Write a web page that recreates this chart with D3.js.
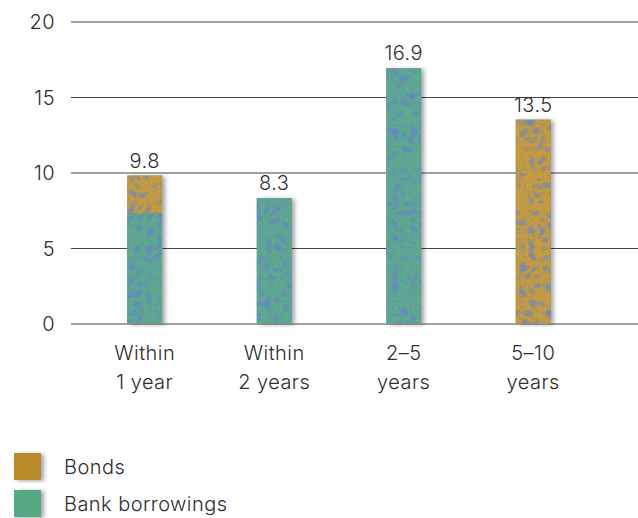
<!DOCTYPE html>
<html>
<head>
<meta charset="utf-8">
<script src="https://cdn.jsdelivr.net/npm/d3@7"></script>
<style>
  html, body { margin: 0; padding: 0; background: #fff; }
  svg text { font-family: Inter, "Open Sans", "Liberation Sans", sans-serif; font-weight: 300; fill: #2e2e2e; letter-spacing: 0.45px; }
</style>
</head>
<body>
<svg id="chart" width="638" height="518"></svg>
<script>
// Maturity profile (amounts)
const categories = ["Within 1 year", "Within 2 years", "2–5 years", "5–10 years"];
const categoryLines = [["Within", "1 year"], ["Within", "2 years"], ["2–5", "years"], ["5–10", "years"]];
const bankBorrowings = [7.3, 8.3, 16.9, 0];
const bonds = [2.5, 0, 0, 13.5];
const totals = [9.8, 8.3, 16.9, 13.5];
const yTicks = [0, 5, 10, 15, 20];
const seriesNames = ["Bonds", "Bank borrowings"];

const svg = d3.select("#chart");
const defs = svg.append("defs");

// Drop shadow for bars and legend swatches
const shadow = defs.append("filter").attr("id", "shadow")
  .attr("x", "-30%").attr("y", "-10%").attr("width", "180%").attr("height", "120%");
shadow.append("feDropShadow").attr("dx", 3).attr("dy", 1).attr("stdDeviation", 2)
  .attr("flood-color", "#000").attr("flood-opacity", 0.35);

// Mottled blue veining laid over the bar fills
function mottle(id, r, g, b, seed) {
  const f = defs.append("filter").attr("id", id)
    .attr("x", 0).attr("y", 0).attr("width", 1).attr("height", 1)
    .attr("color-interpolation-filters", "sRGB");
  f.append("feTurbulence").attr("type", "turbulence").attr("baseFrequency", 0.11)
    .attr("numOctaves", 2).attr("seed", seed).attr("result", "noise");
  f.append("feColorMatrix").attr("in", "noise").attr("type", "matrix")
    .attr("values", `0 0 0 0 ${r}  0 0 0 0 ${g}  0 0 0 0 ${b}  0 0 0 2.2 -0.42`)
    .attr("result", "ink");
  f.append("feGaussianBlur").attr("in", "ink").attr("stdDeviation", 0.6).attr("result", "soft");
  f.append("feComposite").attr("in", "soft").attr("in2", "SourceGraphic").attr("operator", "atop");
}
mottle("mottleBank", 0.40, 0.53, 0.76, 4);
mottle("mottleBonds", 0.47, 0.54, 0.68, 7);

// Swirl textures for the bar fills
function texture(id, base, ink) {
  const s = 22;
  const p = defs.append("pattern").attr("id", id)
    .attr("patternUnits", "userSpaceOnUse").attr("width", s).attr("height", s);
  p.append("rect").attr("width", s).attr("height", s).attr("fill", base);
  const h = s / 2;
  const arcs = [[0, 0, 7], [s, 0, 7], [0, s, 7], [s, s, 7], [h, h, 7], [h, h, 3.5], [0, 0, 3.5], [s, s, 3.5], [s, 0, 3.5], [0, s, 3.5]];
  p.selectAll("circle").data(arcs).join("circle")
    .attr("cx", d => d[0]).attr("cy", d => d[1]).attr("r", d => d[2])
    .attr("fill", "none").attr("stroke", ink).attr("stroke-width", 1.6).attr("stroke-opacity", 0.22);
}
texture("texBank", "#5cab8a", "#5c7cc4");
texture("texBonds", "#cc9c34", "#7183ab");

const y = d3.scaleLinear().domain([0, 20]).range([323.5, 21.5]);
const x = d3.scaleBand().domain(categories).range([80, 598]).paddingInner(0.73).paddingOuter(0.365);

// Gridlines and y labels
const yAxis = svg.append("g").attr("transform", "translate(71,0)")
  .call(d3.axisRight(y).tickValues(yTicks).tickSize(567).tickFormat(d3.format("d")));
yAxis.select(".domain").remove();
yAxis.selectAll(".tick line").attr("stroke", "#444").attr("stroke-width", 1);
yAxis.selectAll(".tick text")
  .attr("x", -16).attr("dy", "0.36em").attr("text-anchor", "end")
  .style("font-size", "20px");

// Stacked bars
const stackData = categories.map((c, i) => ({ cat: c, bank: bankBorrowings[i], bonds: bonds[i] }));
const stack = d3.stack().keys(["bank", "bonds"])(stackData);
const fills = { bank: "url(#texBank)", bonds: "url(#texBonds)" };
const mottles = { bank: "url(#mottleBank)", bonds: "url(#mottleBonds)" };

const barsG = svg.append("g");
// shadow underlay per full bar
barsG.selectAll("rect.shadow").data(categories).join("rect")
  .attr("class", "shadow")
  .attr("x", d => x(d)).attr("width", x.bandwidth())
  .attr("y", (d, i) => y(totals[i])).attr("height", (d, i) => y(0) - y(totals[i]))
  .attr("fill", "#888").attr("filter", "url(#shadow)");

stack.forEach(layer => {
  barsG.selectAll(null).data(layer.filter(d => d[1] > d[0])).join("rect")
    .attr("x", d => x(d.data.cat)).attr("width", x.bandwidth())
    .attr("y", d => y(d[1])).attr("height", d => y(d[0]) - y(d[1]))
    .attr("fill", fills[layer.key])
    .attr("filter", mottles[layer.key]);
});

// Value labels
svg.append("g").selectAll("text").data(categories).join("text")
  .attr("x", d => x(d) + x.bandwidth() / 2)
  .attr("y", (d, i) => y(totals[i]) - 8)
  .attr("text-anchor", "middle")
  .style("font-size", "20px")
  .text((d, i) => totals[i].toFixed(1));

// Category labels
const catG = svg.append("g").selectAll("text").data(categories).join("text")
  .attr("x", d => x(d) + x.bandwidth() / 2)
  .attr("y", 360)
  .attr("text-anchor", "middle")
  .style("font-size", "20px");
catG.selectAll("tspan").data((d, i) => categoryLines[i]).join("tspan")
  .attr("x", function () { return d3.select(this.parentNode).attr("x"); })
  .attr("dy", (d, j) => j === 0 ? 0 : 29)
  .text(d => d);

// Legend
const legendColors = ["#b98a2c", "#55aa84"];
const legend = svg.append("g").selectAll("g").data(seriesNames).join("g")
  .attr("transform", (d, i) => `translate(14,${453 + i * 37})`);
legend.append("rect").attr("width", 27).attr("height", 27)
  .attr("fill", (d, i) => legendColors[i]).attr("filter", "url(#shadow)");
legend.append("text").attr("x", 50).attr("y", 21)
  .style("font-size", "20px").text(d => d);
</script>
</body>
</html>
